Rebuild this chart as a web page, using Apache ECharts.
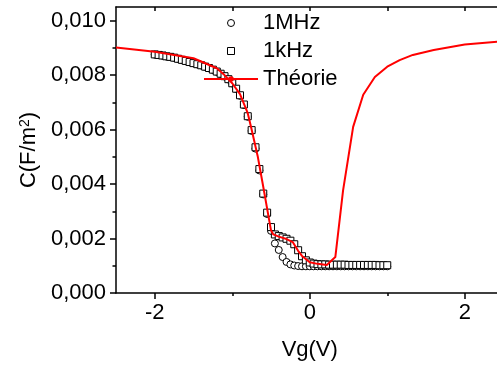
<!DOCTYPE html>
<html>
<head>
<meta charset="utf-8">
<script src="https://cdn.jsdelivr.net/npm/echarts@6/dist/echarts.min.js"></script>
<style>
html, body { margin: 0; padding: 0; background: #fff; }
#chart { width: 497px; height: 367px; }
</style>
</head>
<body>
<div id="chart"></div>
<script>
// Vg (V) of the measured points
const vg = [
  -2.00, -1.95, -1.90, -1.85, -1.80, -1.75, -1.70, -1.65, -1.60, -1.55,
  -1.50, -1.45, -1.40, -1.35, -1.30, -1.25, -1.20, -1.15, -1.10, -1.05,
  -1.00, -0.95, -0.90, -0.85, -0.80, -0.75, -0.70, -0.65, -0.60, -0.55,
  -0.50, -0.45, -0.40, -0.35, -0.30, -0.25, -0.20, -0.15, -0.10, -0.05,
   0.00,  0.05,  0.10,  0.15,  0.20,  0.25,  0.30,  0.35,  0.40,  0.45,
   0.50,  0.55,  0.60,  0.65,  0.70,  0.75,  0.80,  0.85,  0.90,  0.95,
   1.00
];
// C (F/m2) at 1 MHz
const c1MHz = [
  0.00875, 0.00873, 0.00871, 0.00868, 0.00866, 0.00863, 0.00859, 0.00855, 0.00851, 0.00847,
  0.00843, 0.00839, 0.00835, 0.00830, 0.00825, 0.00819, 0.00812, 0.00804, 0.00795, 0.00784,
  0.00769, 0.00749, 0.00724, 0.00690, 0.00647, 0.00595, 0.00530, 0.00450, 0.00362, 0.00290,
  0.00228, 0.00182, 0.00158, 0.00132, 0.00114, 0.00105, 0.00101, 0.00099, 0.00098, 0.00098,
  0.00098, 0.00098, 0.00098, 0.00098, 0.00098, 0.00098, 0.00098, 0.00098, 0.00098, 0.00098,
  0.00098, 0.00098, 0.00098, 0.00098, 0.00098, 0.00098, 0.00098, 0.00098, 0.00098, 0.00098,
  0.00098
];
// C (F/m2) at 1 kHz
const c1kHz = [
  0.00876, 0.00874, 0.00872, 0.00869, 0.00867, 0.00864, 0.00860, 0.00856, 0.00852, 0.00848,
  0.00844, 0.00840, 0.00836, 0.00831, 0.00826, 0.00820, 0.00813, 0.00805, 0.00796, 0.00785,
  0.00770, 0.00750, 0.00726, 0.00692, 0.00649, 0.00598, 0.00535, 0.00455, 0.00365, 0.00295,
  0.00242, 0.00215, 0.00209, 0.00204, 0.00199, 0.00192, 0.00179, 0.00157, 0.00135, 0.00120,
  0.00112, 0.00108, 0.00106, 0.00105, 0.00105, 0.00104, 0.00104, 0.00104, 0.00104, 0.00104,
  0.00103, 0.00103, 0.00103, 0.00103, 0.00103, 0.00103, 0.00103, 0.00103, 0.00102, 0.00102,
  0.00102
];
// theoretical curve
const vgTheory = [
  -2.50, -2.00, -1.50, -1.20, -1.10, -1.00, -0.90, -0.85, -0.80, -0.75,
  -0.67, -0.60, -0.55, -0.50, -0.47, -0.40, -0.30, -0.22, -0.15, -0.10,
   0.00,  0.10,  0.22,  0.33,  0.43,  0.56,  0.69,  0.84,  1.00,  1.16,
   1.33,  1.60,  2.00,  2.50
];
const cTheory = [
  0.00901, 0.00886, 0.00862, 0.00825, 0.00800, 0.00770, 0.00730, 0.00695, 0.00660, 0.00600,
  0.00500, 0.00390, 0.00310, 0.00230, 0.00215, 0.00207, 0.00198, 0.00187, 0.00155, 0.00136,
  0.00113, 0.00107, 0.00103, 0.00132, 0.00377, 0.00610, 0.00728, 0.00793, 0.00831, 0.00855,
  0.00874, 0.00892, 0.00912, 0.00924
];
const xTicks = [-2, 0, 2];
const xMinorTicks = [-1, 1];
const xTopTicks = [-2, -1, 0, 1, 2];
const yTicks = [0, 0.002, 0.004, 0.006, 0.008, 0.010];
const yMinorTicks = [0.001, 0.003, 0.005, 0.007, 0.009];

const font = 'Liberation Sans, Arial, sans-serif';
const black = '#000';

let myChart = echarts.init(document.getElementById('chart'));
myChart.setOption({
  animation: false,
  backgroundColor: '#fff',
  grid: { left: 116, top: 7, right: -6.5, bottom: 74, outerBoundsMode: 'none' },
  legend: {
    orient: 'vertical',
    left: 203,
    top: 12,
    padding: 0,
    itemWidth: 54,
    itemHeight: 7,
    itemGap: 6,
    selectedMode: false,
    symbolKeepAspect: true,
    itemStyle: { borderWidth: 1 },
    textStyle: { fontSize: 22, color: black, fontFamily: font },
    data: [
      { name: '1MHz', icon: 'circle' },
      { name: '1kHz', icon: 'path://M0,0L10,0L10,10L0,10Z' },
      { name: 'Théorie' }
    ]
  },
  xAxis: [
    {
      type: 'value', position: 'bottom', min: -2.5, max: 2.5,
      name: 'Vg(V)', nameLocation: 'middle', nameGap: 46,
      nameTextStyle: { fontSize: 22, color: black, fontFamily: font },
      axisLine: { show: true, onZero: false, lineStyle: { color: black, width: 1.5 } },
      axisTick: { show: true, customValues: xTicks, length: 6, lineStyle: { color: black, width: 1.5 } },
      axisLabel: { customValues: xTicks, margin: 9, fontSize: 22, color: black, fontFamily: font },
      splitLine: { show: false }
    },
    {
      type: 'value', position: 'top', min: -2.5, max: 2.5,
      axisLine: { show: true, onZero: false, lineStyle: { color: black, width: 1.5 } },
      axisTick: { show: true, inside: true, customValues: xTopTicks, length: 4, lineStyle: { color: black, width: 1.5 } },
      axisLabel: { show: false },
      splitLine: { show: false }
    },
    {
      type: 'value', position: 'bottom', min: -2.5, max: 2.5,
      axisLine: { show: false, onZero: false },
      axisTick: { show: true, customValues: xMinorTicks, length: 3, lineStyle: { color: black, width: 1.5 } },
      axisLabel: { show: false },
      splitLine: { show: false }
    }
  ],
  yAxis: [
    {
      type: 'value', position: 'left', min: 0, max: 0.0105,
      name: 'C(F/m{sup|2})', nameLocation: 'middle', nameGap: 75,
      nameTextStyle: {
        fontSize: 22, color: black, fontFamily: font,
        rich: { sup: { fontSize: 14, color: black, fontFamily: font, verticalAlign: 'top' } }
      },
      axisLine: { show: true, onZero: false, lineStyle: { color: black, width: 1.5 } },
      axisTick: { show: true, customValues: yTicks, length: 6, lineStyle: { color: black, width: 1.5 } },
      axisLabel: {
        customValues: yTicks, margin: 10, fontSize: 22, color: black, fontFamily: font,
        formatter: v => v.toFixed(3).replace('.', ',')
      },
      splitLine: { show: false }
    },
    {
      type: 'value', position: 'left', min: 0, max: 0.0105,
      axisLine: { show: false, onZero: false },
      axisTick: { show: true, customValues: yMinorTicks, length: 3.5, lineStyle: { color: black, width: 1.5 } },
      axisLabel: { show: false },
      splitLine: { show: false }
    }
  ],
  series: [
    {
      name: '1MHz', type: 'scatter', z: 2,
      symbol: 'circle', symbolSize: 7,
      itemStyle: { color: '#fff', borderColor: black, borderWidth: 1, opacity: 1 },
      data: vg.map((x, i) => [x, c1MHz[i]])
    },
    {
      name: '1kHz', type: 'scatter', z: 3,
      symbol: 'rect', symbolSize: 7,
      itemStyle: { color: '#fff', borderColor: black, borderWidth: 1, opacity: 1 },
      data: vg.map((x, i) => [x, c1kHz[i]])
    },
    {
      name: 'Théorie', type: 'line', z: 4,
      symbol: 'none',
      itemStyle: { color: '#ff0000' },
      lineStyle: { color: '#ff0000', width: 2 },
      data: vgTheory.map((x, i) => [x, cTheory[i]])
    }
  ]
});
</script>
</body>
</html>
